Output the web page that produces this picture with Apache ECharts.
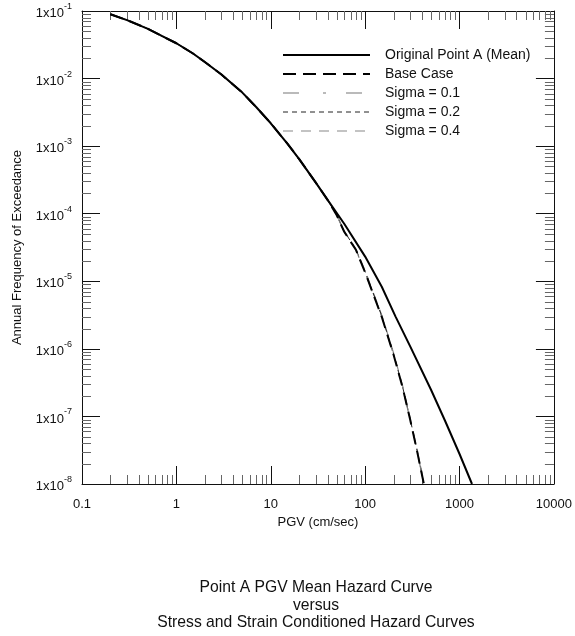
<!DOCTYPE html>
<html><head><meta charset="utf-8">
<script src="https://cdn.jsdelivr.net/npm/echarts@6/dist/echarts.min.js"></script>
<style>html,body{margin:0;padding:0;background:#fff}#c{width:575px;height:636px}</style>
</head><body><div id="c"></div>
<script>
// ---- data ----
const meanPGV = [0.2, 0.3, 0.5, 0.7, 1, 1.5, 2, 3, 5, 5.94, 7, 10, 15, 20, 30, 40, 60, 100, 150, 210, 300, 500, 700, 1000, 1355];
const meanAFE = [0.0895, 0.0733, 0.0545, 0.0427, 0.0333, 0.0235, 0.0176, 0.0115, 0.0062, 0.00482, 0.00379, 0.00218, 0.00109, 6.44e-4, 2.88e-4, 1.6e-4, 7.1e-5, 2.32e-5, 8.3e-6, 3.0e-6, 1.09e-6, 2.46e-7, 8.7e-8, 2.78e-8, 1.0e-8];

const basePGV = [0.2, 0.3, 0.5, 0.7, 1, 1.5, 2, 3, 5, 5.94, 7, 10, 15, 20, 30, 40, 50, 60, 80, 100, 150, 200, 250, 300, 350, 419];
const baseAFE = [0.0895, 0.0733, 0.0545, 0.0427, 0.0333, 0.0235, 0.0176, 0.0115, 0.0062, 0.00482, 0.00379, 0.00218, 0.00109, 6.44e-4, 2.88e-4, 1.6e-4, 9.5e-5, 5.4e-5, 2.9e-5, 1.35e-5, 2.97e-6, 8.2e-7, 2.64e-7, 8.9e-8, 3.36e-8, 1.0e-8];

const sigma01AFE = [0.0895, 0.0733, 0.0545, 0.0427, 0.0333, 0.0235, 0.0176, 0.0115, 0.0062, 0.00482, 0.00379, 0.00218, 0.00109, 6.44e-4, 2.88e-4, 1.6e-4, 9.5e-5, 5.4e-5, 2.9e-5, 1.35e-5, 2.97e-6, 8.2e-7, 2.64e-7, 8.9e-8, 3.36e-8, 1.0e-8];
const sigma02AFE = [0.0895, 0.0733, 0.0545, 0.0427, 0.0333, 0.0235, 0.0176, 0.0115, 0.0062, 0.00482, 0.00379, 0.00218, 0.00109, 6.44e-4, 2.88e-4, 1.6e-4, 9.6e-5, 5.5e-5, 2.95e-5, 1.38e-5, 3.05e-6, 8.4e-7, 2.7e-7, 9.1e-8, 3.45e-8, 1.0e-8];
const sigma04AFE = [0.0895, 0.0733, 0.0545, 0.0427, 0.0333, 0.0235, 0.0176, 0.0115, 0.0062, 0.00482, 0.00379, 0.00218, 0.00109, 6.44e-4, 2.88e-4, 1.6e-4, 9.7e-5, 5.6e-5, 3.0e-5, 1.42e-5, 3.15e-6, 8.7e-7, 2.8e-7, 9.4e-8, 3.55e-8, 1.05e-8];

const seriesNames = ['Original Point A (Mean)', 'Base Case', 'Sigma = 0.1', 'Sigma = 0.2', 'Sigma = 0.4'];
const xTickLabels = ['0.1', '1', '10', '100', '1000', '10000'];
const yExponents = [-8, -7, -6, -5, -4, -3, -2, -1];
const xMin = 0.1, xMax = 10000, yMin = 1e-8, yMax = 1e-1;

const titleLines = ['Point A PGV Mean Hazard Curve', 'versus', 'Stress and Strain Conditioned Hazard Curves'];
const xTitle = 'PGV (cm/sec)';
const yTitle = 'Annual Frequency of Exceedance';

// minor tick positions (2..9 x 10^k)
const xMinor = [], yMinor = [];
for (let e = -1; e < 4; e++) for (let m = 2; m <= 9; m++) xMinor.push([m * Math.pow(10, e), yMin]);
for (let e = -8; e < -1; e++) for (let m = 2; m <= 9; m++) yMinor.push([xMin, m * Math.pow(10, e)]);

const zip = (xs, ys) => xs.map((x, i) => [x, ys[i]]);
const FONT = 'Liberation Sans, Arial, sans-serif';
const INK = '#111';
const MINOR = '#666';

function lineEl(x1, y1, x2, y2) {
  return { type: 'line', shape: { x1, y1, x2, y2 }, style: { stroke: MINOR, lineWidth: 1 } };
}

const chart = echarts.init(document.getElementById('c'), null, { renderer: 'canvas' });

const baseAxisCommon = {
  type: 'log', logBase: 10,
  splitLine: { show: false },
  minorTick: { show: false },
  axisLine: { show: true, lineStyle: { color: INK, width: 1 } },
  axisTick: { show: true, inside: true, length: 18, lineStyle: { color: INK, width: 1 } }
};

function lineSeries(name, xs, ys, color, width, dash, z) {
  return {
    type: 'line', name, data: zip(xs, ys), symbol: 'none', showSymbol: false,
    smooth: false, z, color,
    itemStyle: { color },
    lineStyle: { color, width, type: dash }
  };
}

chart.setOption({
  animation: false,
  backgroundColor: '#fff',
  grid: { left: 82, right: 19, top: 11, bottom: 152, containLabel: false },
  xAxis: [
    Object.assign({}, baseAxisCommon, {
      min: xMin, max: xMax, interval: 1, position: 'bottom',
      axisLabel: {
        margin: 14, fontSize: 13, color: INK, fontFamily: FONT,
        formatter: v => xTickLabels[Math.round(Math.log10(v)) + 1]
      },
      name: xTitle, nameLocation: 'middle', nameGap: 27,
      nameTextStyle: { fontSize: 13, color: INK, fontFamily: FONT }
    }),
    Object.assign({}, baseAxisCommon, {
      min: xMin, max: xMax, interval: 1, position: 'top', axisLabel: { show: false }
    })
  ],
  yAxis: [
    Object.assign({}, baseAxisCommon, {
      min: yMin, max: yMax, interval: 1, position: 'left',
      axisLabel: {
        margin: 10, color: INK, fontFamily: FONT,
        formatter: v => '{b|1x10}{s|' + Math.round(Math.log10(v)) + '}',
        rich: {
          b: { fontSize: 13, fontFamily: FONT, color: INK, lineHeight: 18, verticalAlign: 'bottom' },
          s: { fontSize: 9, fontFamily: FONT, color: INK, lineHeight: 10, verticalAlign: 'top' }
        }
      },
      name: yTitle, nameLocation: 'middle', nameGap: 58, nameRotate: 90,
      nameTextStyle: { fontSize: 13, color: INK, fontFamily: FONT }
    }),
    Object.assign({}, baseAxisCommon, {
      min: yMin, max: yMax, interval: 1, position: 'right', axisLabel: { show: false }
    })
  ],
  legend: {
    orient: 'vertical', left: 277, top: 43,
    itemWidth: 87, itemHeight: 14, itemGap: 5,
    selectedMode: false,
    data: seriesNames,
    itemStyle: { opacity: 0, borderWidth: 0 },
    lineStyle: { width: 'inherit', opacity: 1 },
    textStyle: { fontSize: 14, color: INK, fontFamily: FONT, padding: [0, 0, 0, 10] }
  },
  series: [
    {
      type: 'custom', name: 'xminor', xAxisIndex: 0, yAxisIndex: 0, silent: true, clip: false,
      data: xMinor, encode: { x: 0, y: 1 },
      renderItem: (p, api) => {
        const v = api.value(0);
        const b = api.coord([v, yMin]), t = api.coord([v, yMax]);
        const x = Math.round(b[0]) + 0.5;
        return { type: 'group', children: [lineEl(x, b[1], x, b[1] - 9), lineEl(x, t[1], x, t[1] + 9)] };
      }
    },
    {
      type: 'custom', name: 'yminor', xAxisIndex: 0, yAxisIndex: 0, silent: true, clip: false,
      data: yMinor, encode: { x: 0, y: 1 },
      renderItem: (p, api) => {
        const v = api.value(1);
        const l = api.coord([xMin, v]), r = api.coord([xMax, v]);
        const y = Math.round(l[1]) + 0.5;
        return { type: 'group', children: [lineEl(l[0], y, l[0] + 9, y), lineEl(r[0], y, r[0] - 9, y)] };
      }
    },
    lineSeries(seriesNames[4], basePGV, sigma04AFE, '#888', 1.2, [10, 8], 3),
    lineSeries(seriesNames[3], basePGV, sigma02AFE, '#222', 1, [5, 4], 3),
    lineSeries(seriesNames[2], basePGV, sigma01AFE, '#777', 1.2, [16, 24, 3, 20], 3),
    lineSeries(seriesNames[1], basePGV, baseAFE, '#000', 2, [13, 7], 4),
    lineSeries(seriesNames[0], meanPGV, meanAFE, '#000', 2, 'solid', 5)
  ],
  graphic: [{
    type: 'text', x: 316, y: 579,
    style: {
      text: titleLines.join('\n'), fill: INK, font: '15.7px ' + FONT,
      fontSize: 15.7, fontFamily: FONT, lineHeight: 17.5,
      align: 'center', textAlign: 'center', verticalAlign: 'top'
    }
  }]
});
</script>
</body></html>
